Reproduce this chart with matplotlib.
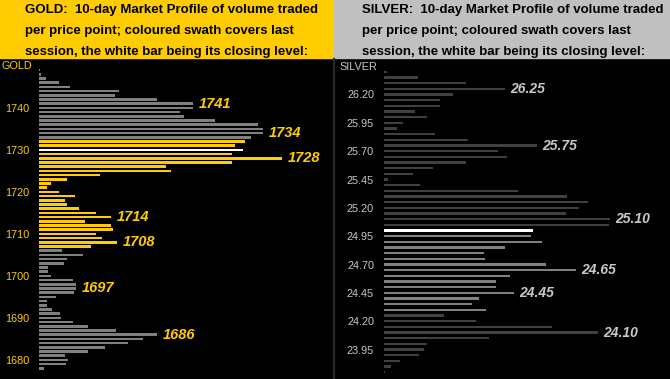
import matplotlib
matplotlib.use("Agg")
import matplotlib.pyplot as plt
from matplotlib.patches import Rectangle

# ---------------- data ----------------
gold_prices = [1749, 1748, 1747, 1746, 1745, 1744, 1743, 1742, 1741, 1740,
               1739, 1738, 1737, 1736, 1735, 1734, 1733, 1732, 1731, 1730,
               1729, 1728, 1727, 1726, 1725, 1724, 1723, 1722, 1721, 1720,
               1719, 1718, 1717, 1716, 1715, 1714, 1713, 1712, 1711, 1710,
               1709, 1708, 1707, 1706, 1705, 1704, 1703, 1702, 1701, 1700,
               1699, 1698, 1697, 1696, 1695, 1694, 1693, 1692, 1691, 1690,
               1689, 1688, 1687, 1686, 1685, 1684, 1683, 1682, 1681, 1680,
               1679, 1678]
gold_volume = [1, 2, 7, 20, 31, 80, 76, 118, 154, 154,
               141, 145, 176, 219, 224, 224, 212, 206, 196, 204,
               193, 243, 193, 127, 132, 61, 28, 12, 8, 20,
               36, 26, 28, 40, 57, 72, 46, 72, 74, 57,
               63, 78, 52, 23, 44, 28, 25, 9, 9, 12,
               34, 37, 37, 35, 17, 8, 8, 13, 21, 22,
               34, 49, 77, 118, 104, 89, 66, 49, 26, 29,
               27, 5]
gold_swath = (1707, 1732)
gold_close = 1730
gold_ticks = [1680, 1690, 1700, 1710, 1720, 1730, 1740]
gold_labels = [1741, 1734, 1728, 1714, 1708, 1697, 1686]

silver_prices = [26.40, 26.35, 26.30, 26.25, 26.20, 26.15, 26.10, 26.05, 26.00, 25.95,
                 25.90, 25.85, 25.80, 25.75, 25.70, 25.65, 25.60, 25.55, 25.50, 25.45,
                 25.40, 25.35, 25.30, 25.25, 25.20, 25.15, 25.10, 25.05, 25.00, 24.95,
                 24.90, 24.85, 24.80, 24.75, 24.70, 24.65, 24.60, 24.55, 24.50, 24.45,
                 24.40, 24.35, 24.30, 24.25, 24.20, 24.15, 24.10, 24.05, 24.00, 23.95,
                 23.90, 23.85, 23.80, 23.75]
silver_volume = [3, 34, 82, 121, 69, 56, 56, 31, 43, 19,
                 13, 51, 84, 153, 114, 123, 82, 49, 29, 4,
                 36, 134, 183, 204, 195, 182, 226, 225, 149, 147,
                 158, 121, 100, 101, 162, 192, 126, 112, 112, 130,
                 95, 88, 102, 60, 92, 168, 214, 105, 43, 40,
                 35, 16, 7, 1]
silver_swath = (24.30, 25.00)
silver_close = 25.00
silver_ticks = [23.95, 24.20, 24.45, 24.70, 24.95, 25.20, 25.45, 25.70, 25.95, 26.20]
silver_labels = [26.25, 25.75, 25.10, 24.65, 24.45, 24.10]

gold_title = ["GOLD:  10-day Market Profile of volume traded",
              "per price point; coloured swath covers last",
              "session, the white bar being its closing level:"]
silver_title = ["SILVER:  10-day Market Profile of volume traded",
                "per price point; coloured swath covers last",
                "session, the white bar being its closing level:"]

# ---------------- style ----------------
W, H = 670, 379
YELLOW = "#FFCC00"
HDR_GREY = "#C0C0C0"
GOLD_GREY = "#808080"
SIL_DARK = "#404040"
SIL_LIGHT = "#808080"
SIL_TEXT = "#C8C8C8"

plt.rcParams["font.family"] = ["Liberation Sans", "DejaVu Sans"]

fig = plt.figure(figsize=(W / 100, H / 100), dpi=100, facecolor="black")


def px_rect(x0, y0, x1, y1):
    return [x0 / W, 1 - y1 / H, (x1 - x0) / W, (y1 - y0) / H]


# headers
fig.patches.append(Rectangle((0, 1 - 58 / H), 333 / W, 58 / H,
                             transform=fig.transFigure, color=YELLOW, zorder=0))
fig.patches.append(Rectangle((334 / W, 1 - 58 / H), (W - 334) / W, 58 / H,
                             transform=fig.transFigure, color=HDR_GREY, zorder=0))
# thin separator between panels
fig.patches.append(Rectangle((333 / W, 0), 1 / W, 1 - 58 / H,
                             transform=fig.transFigure, color="#262626", zorder=0))

for i, (g, s) in enumerate(zip(gold_title, silver_title)):
    yb = 1 - (13.5 + 20.5 * i) / H
    fig.text(25 / W, yb, g, color="black", fontsize=9.5, fontweight="bold",
             va="baseline", ha="left")
    fig.text(362 / W, yb, s, color="black", fontsize=9.5, fontweight="bold",
             va="baseline", ha="left")


def colours(prices, swath, close, base, swath_col):
    out = []
    for p in prices:
        if abs(p - close) < 1e-6:
            out.append("white")
        elif swath[0] - 1e-6 <= p <= swath[1] + 1e-6:
            out.append(swath_col)
        else:
            out.append(base)
    return out


# ---------------- gold panel ----------------
axg = fig.add_axes(px_rect(39, 58, 333, 379))
axg.set_facecolor("black")
axg.barh(gold_prices, gold_volume, height=0.62, antialiased=False, linewidth=0,
         color=colours(gold_prices, gold_swath, gold_close, GOLD_GREY, YELLOW))
axg.set_xlim(0, 294)
axg.set_ylim(1675.43, 1751.86)
axg.set_yticks(gold_ticks)
axg.set_yticklabels([str(t) for t in gold_ticks])
axg.set_xticks([])
axg.tick_params(axis="y", length=0, pad=7.2, colors=YELLOW, labelsize=7.8)
for sp in axg.spines.values():
    sp.set_visible(False)
vol_g = dict(zip(gold_prices, gold_volume))
for p in gold_labels:
    axg.annotate(str(p), xy=(vol_g[p], p), xytext=(3.8, 0),
                 textcoords="offset points", va="center", ha="left",
                 color=YELLOW, fontsize=10.5, fontweight="bold", style="italic")
fig.text(1 / W, 1 - 66 / H, "GOLD", color=YELLOW, fontsize=7.8,
         va="center", ha="left")

# ---------------- silver panel ----------------
axs = fig.add_axes(px_rect(384, 58, 670, 379))
axs.set_facecolor("black")
axs.barh(silver_prices, silver_volume, height=0.022, antialiased=False, linewidth=0,
         color=colours(silver_prices, silver_swath, silver_close, SIL_DARK, SIL_LIGHT))
axs.set_xlim(0, 286)
axs.set_ylim(23.690, 26.522)
axs.set_yticks(silver_ticks)
axs.set_yticklabels([f"{t:.2f}" for t in silver_ticks])
axs.set_xticks([])
axs.tick_params(axis="y", length=0, pad=7.2, colors=SIL_TEXT, labelsize=7.8)
for sp in axs.spines.values():
    sp.set_visible(False)
vol_s = {round(p, 2): v for p, v in zip(silver_prices, silver_volume)}
for p in silver_labels:
    axs.annotate(f"{p:.2f}", xy=(vol_s[round(p, 2)], p), xytext=(4, 0),
                 textcoords="offset points", va="center", ha="left",
                 color=SIL_TEXT, fontsize=10, fontweight="bold", style="italic")
fig.text(339 / W, 1 - 67.5 / H, "SILVER", color=SIL_TEXT, fontsize=7.8,
         va="center", ha="left")

fig.savefig("out.png", dpi=100, facecolor="black")
